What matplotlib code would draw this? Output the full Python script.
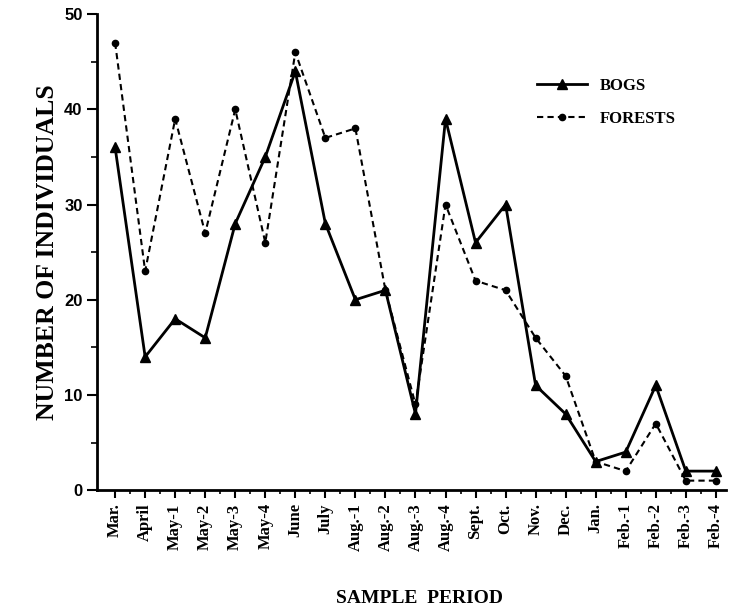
import matplotlib
matplotlib.use("Agg")
import matplotlib.pyplot as plt
from matplotlib.ticker import MultipleLocator

periods = ["Mar.", "April", "May-1", "May-2", "May-3", "May-4", "June", "July",
           "Aug.-1", "Aug.-2", "Aug.-3", "Aug.-4", "Sept.", "Oct.", "Nov.", "Dec.",
           "Jan.", "Feb.-1", "Feb.-2", "Feb.-3", "Feb.-4"]
bogs = [36, 14, 18, 16, 28, 35, 44, 28, 20, 21, 8, 39, 26, 30, 11, 8, 3, 4, 11, 2, 2]
forests = [47, 23, 39, 27, 40, 26, 46, 37, 38, 21, 9, 30, 22, 21, 16, 12, 3, 2, 7, 1, 1]

x = list(range(len(periods)))

fig = plt.figure(figsize=(7.3, 6.15), dpi=100)
ax = fig.add_axes([0.133, 0.203, 0.862, 0.774])

ax.plot(x, bogs, color="black", lw=2, marker="^", ms=7, label="BOGS")
ax.plot(x, forests, color="black", lw=1.5, ls=(0, (3, 2)), marker="o", ms=4.5, label="FORESTS")

ax.set_xlim(-0.6, 20.35)
ax.set_ylim(0, 50)
ax.spines["top"].set_visible(False)
ax.spines["right"].set_visible(False)
ax.spines["left"].set_linewidth(2)
ax.spines["bottom"].set_linewidth(2)

ax.yaxis.set_major_locator(MultipleLocator(10))
ax.yaxis.set_minor_locator(MultipleLocator(5))
ax.tick_params(axis="y", which="major", length=7, width=1.5, labelsize=12)
ax.tick_params(axis="y", which="minor", length=4, width=1.2)
for t in ax.get_yticklabels():
    t.set_fontfamily("Liberation Sans")
    t.set_fontweight("bold")

ax.set_xticks(x)
ax.set_xticks([i + 0.5 for i in x[:-1]], minor=True)
ax.set_xticklabels(periods, rotation=90, fontsize=12, fontweight="bold", family="Liberation Serif")
ax.tick_params(axis="x", which="major", length=6, width=1.5)
ax.tick_params(axis="x", which="minor", length=3, width=1.2)

ax.set_ylabel("NUMBER OF INDIVIDUALS", fontsize=18.5, fontweight="bold", family="Liberation Serif", labelpad=4)
fig.text(0.575, 0.02, "SAMPLE  PERIOD", ha="center", fontsize=14, fontweight="bold", family="Liberation Serif")

leg = ax.legend(loc="upper left", bbox_to_anchor=(0.675, 0.897), frameon=False,
                prop={"family": "Liberation Serif", "weight": "bold", "size": 12},
                handlelength=3, labelspacing=1.0)

fig.savefig("out.png", dpi=100)
